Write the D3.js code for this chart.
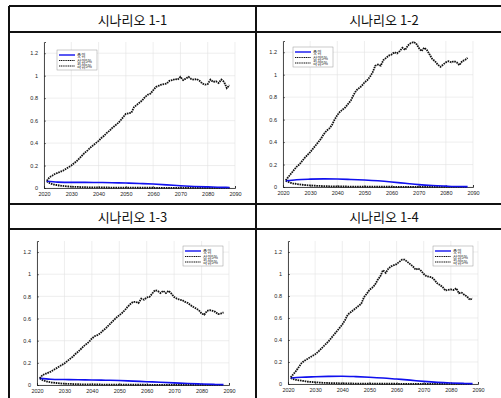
<!DOCTYPE html>
<html>
<head>
<meta charset="utf-8">
<script src="https://cdn.jsdelivr.net/npm/d3@7"></script>
<style>
  body { margin: 0; background: #fff; }
  svg { display: block; }
  .hdr { font-family: "Noto Sans CJK KR", "Noto Sans", sans-serif; font-size: 13px; fill: #111; }
  .tick text { font-family: "Liberation Sans", Arial, sans-serif; font-size: 5.5px; }
  .leg { font-family: "Noto Sans CJK KR", sans-serif; font-size: 4.5px; }
</style>
</head>
<body>
<div id="chart"></div>
<script>
// --- data ---
const titles = ["시나리오 1-1", "시나리오 1-2", "시나리오 1-3", "시나리오 1-4"];
const seriesNames = ["중위", "상위5%", "하위5%"];
const xTicks = [2020, 2030, 2040, 2050, 2060, 2070, 2080, 2090];
const yTicks = [0, 0.2, 0.4, 0.6, 0.8, 1, 1.2];

// upper 5% : yearly 2021..2088
const upperYears = d3.range(2021, 2089);
const upper11 = [0.065,0.095,0.11,0.125,0.135,0.145,0.155,0.17,0.185,0.2,
  0.22,0.24,0.265,0.29,0.315,0.335,0.36,0.38,0.4,0.42,
  0.445,0.465,0.49,0.51,0.535,0.555,0.575,0.6,0.63,0.66,
  0.665,0.67,0.72,0.74,0.76,0.78,0.81,0.83,0.84,0.87,
  0.9,0.91,0.92,0.925,0.93,0.955,0.96,0.97,0.965,0.99,
  0.96,0.975,0.99,0.97,0.965,0.97,0.955,0.93,0.92,0.925,
  0.965,0.945,0.95,0.935,0.965,0.945,0.89,0.915];
const upper12 = [0.06,0.09,0.12,0.15,0.18,0.2,0.23,0.26,0.285,0.31,
  0.34,0.37,0.4,0.43,0.47,0.5,0.52,0.55,0.6,0.64,
  0.67,0.69,0.71,0.74,0.77,0.82,0.86,0.88,0.9,0.93,
  0.95,0.98,1.02,1.08,1.09,1.08,1.13,1.15,1.17,1.18,
  1.2,1.19,1.21,1.24,1.22,1.26,1.28,1.29,1.28,1.24,
  1.21,1.24,1.22,1.18,1.14,1.12,1.09,1.07,1.09,1.11,
  1.12,1.11,1.12,1.11,1.085,1.12,1.13,1.15];
const upper13 = [0.06,0.09,0.1,0.11,0.12,0.135,0.15,0.165,0.18,0.195,
  0.215,0.235,0.255,0.28,0.3,0.325,0.35,0.37,0.39,0.42,
  0.44,0.45,0.465,0.49,0.51,0.535,0.56,0.585,0.61,0.63,
  0.65,0.675,0.705,0.73,0.75,0.75,0.74,0.78,0.77,0.79,
  0.795,0.825,0.855,0.85,0.83,0.85,0.83,0.85,0.825,0.795,
  0.78,0.77,0.765,0.75,0.74,0.72,0.705,0.69,0.675,0.645,
  0.635,0.67,0.675,0.67,0.66,0.64,0.645,0.655];
const upper14 = [0.06,0.09,0.12,0.155,0.19,0.21,0.225,0.24,0.255,0.27,
  0.29,0.315,0.34,0.365,0.39,0.42,0.45,0.48,0.51,0.54,
  0.58,0.63,0.65,0.67,0.69,0.71,0.73,0.79,0.82,0.855,
  0.875,0.9,0.945,0.98,1.035,1.01,1.05,1.07,1.08,1.09,
  1.11,1.13,1.13,1.11,1.09,1.07,1.04,1.05,1.03,1.0,
  0.98,0.975,0.97,0.945,0.915,0.9,0.88,0.85,0.855,0.86,
  0.855,0.87,0.825,0.83,0.81,0.795,0.765,0.78];

// median : read every 5 years
const medYears = [2021, 2025, 2030, 2035, 2040, 2045, 2050, 2055, 2060, 2065, 2070, 2075, 2080, 2085, 2088];
const med11 = [0.06, 0.052, 0.05, 0.05, 0.049, 0.047, 0.044, 0.04, 0.035, 0.028, 0.02, 0.014, 0.01, 0.006, 0.005];
const med12 = [0.055, 0.065, 0.07, 0.072, 0.071, 0.067, 0.062, 0.055, 0.045, 0.033, 0.021, 0.013, 0.008, 0.004, 0.003];
const med13 = [0.06, 0.052, 0.049, 0.047, 0.045, 0.043, 0.04, 0.035, 0.03, 0.025, 0.019, 0.013, 0.009, 0.005, 0.003];
const med14 = [0.055, 0.062, 0.066, 0.069, 0.07, 0.067, 0.062, 0.055, 0.045, 0.035, 0.024, 0.015, 0.009, 0.005, 0.003];

// lower 5%
const lowYears = [2021, 2022, 2023, 2025, 2027, 2030, 2033, 2035, 2040, 2045, 2050, 2060, 2070, 2080, 2088];
const low11 = [0.06, 0.045, 0.035, 0.025, 0.018, 0.012, 0.009, 0.007, 0.005, 0.004, 0.003, 0.002, 0.001, 0.001, 0.001];
const low12 = [0.055, 0.045, 0.036, 0.027, 0.02, 0.014, 0.01, 0.008, 0.005, 0.004, 0.003, 0.002, 0.001, 0.001, 0.001];
const low13 = [0.06, 0.045, 0.036, 0.025, 0.018, 0.012, 0.009, 0.007, 0.005, 0.004, 0.003, 0.002, 0.001, 0.001, 0.001];
const low14 = [0.055, 0.045, 0.038, 0.03, 0.022, 0.016, 0.011, 0.009, 0.006, 0.004, 0.003, 0.002, 0.001, 0.001, 0.001];

const upperAll = [upper11, upper12, upper13, upper14];
const medAll = [med11, med12, med13, med14];
const lowAll = [low11, low12, low13, low14];

// --- layout ---
const W = 501, H = 398;
const table = { left: 9, mid: 256, right: 512, top: 6, hdr1: 32, row2: 204, hdr2: 229, bottom: 420 };
// plot boxes: x of 2020, x of 2090, y of 0, y of 1.3 ; legend position
const panels = [
  { x0: 44,  x1: 235, y0: 188, y1: 42,  leg: [57, 50] },
  { x0: 283, x1: 473, y0: 187, y1: 41,  leg: [293, 47] },
  { x0: 37,  x1: 229, y0: 385, y1: 241, leg: [183, 246] },
  { x0: 288, x1: 478, y0: 384, y1: 241, leg: [433, 246] }
];

const svg = d3.select("#chart").append("svg")
  .attr("width", W).attr("height", H);

// table lines
const tl = svg.append("g").attr("stroke", "#111").attr("stroke-width", 2);
[table.top, table.hdr1, table.row2, table.hdr2].forEach(y => {
  tl.append("line").attr("x1", table.left).attr("x2", table.right).attr("y1", y).attr("y2", y);
});
[table.left, table.mid].forEach(x => {
  tl.append("line").attr("x1", x).attr("x2", x).attr("y1", table.top).attr("y2", table.bottom);
});

// headers
const hdrPos = [
  [(table.left + table.mid) / 2, (table.top + table.hdr1) / 2],
  [(table.mid + table.right) / 2, (table.top + table.hdr1) / 2],
  [(table.left + table.mid) / 2, (table.row2 + table.hdr2) / 2],
  [(table.mid + table.right) / 2, (table.row2 + table.hdr2) / 2]
];
titles.forEach((t, i) => {
  svg.append("text").attr("class", "hdr")
    .attr("x", hdrPos[i][0]).attr("y", hdrPos[i][1])
    .attr("text-anchor", "middle").attr("dominant-baseline", "central")
    .text(t);
});

panels.forEach((p, i) => {
  const x = d3.scaleLinear().domain([2020, 2090]).range([p.x0, p.x1]);
  const y = d3.scaleLinear().domain([0, 1.3]).range([p.y0, p.y1]);
  const g = svg.append("g");

  // grid
  g.append("g").selectAll("line").data(xTicks).join("line")
    .attr("x1", d => x(d)).attr("x2", d => x(d))
    .attr("y1", y(0)).attr("y2", y(1.3))
    .attr("stroke", "#e3e3e3").attr("stroke-width", 0.6);
  g.append("g").selectAll("line").data(yTicks).join("line")
    .attr("x1", x(2020)).attr("x2", x(2090))
    .attr("y1", d => y(d)).attr("y2", d => y(d))
    .attr("stroke", "#e3e3e3").attr("stroke-width", 0.6);

  // axes
  const xa = g.append("g").attr("transform", `translate(0,${y(0)})`)
    .call(d3.axisBottom(x).tickValues(xTicks).tickFormat(d3.format("d")).tickSize(-2).tickPadding(4));
  const ya = g.append("g").attr("transform", `translate(${x(2020)},0)`)
    .call(d3.axisLeft(y).tickValues(yTicks).tickFormat(d => d3.format("~g")(d)).tickSize(-2).tickPadding(6));
  [xa, ya].forEach(a => {
    a.select(".domain").attr("stroke", "#222").attr("stroke-width", 0.8);
    a.selectAll(".tick line").attr("stroke", "#222").attr("stroke-width", 0.6);
    a.selectAll(".tick text").attr("fill", "#222");
  });

  // lines
  const line = d3.line().x(d => x(d[0])).y(d => y(d[1]));
  g.append("path")
    .datum(lowYears.map((yr, k) => [yr, lowAll[i][k]]))
    .attr("d", line.curve(d3.curveMonotoneX))
    .attr("fill", "none").attr("stroke", "#111").attr("stroke-width", 1.8)
    .attr("stroke-dasharray", "1.6,0.8");
  g.append("path")
    .datum(medYears.map((yr, k) => [yr, medAll[i][k]]))
    .attr("d", line.curve(d3.curveMonotoneX))
    .attr("fill", "none").attr("stroke", "#1010ee").attr("stroke-width", 1.6);
  g.append("path")
    .datum(upperYears.map((yr, k) => [yr, upperAll[i][k]]))
    .attr("d", line.curve(d3.curveLinear))
    .attr("fill", "none").attr("stroke", "#111").attr("stroke-width", 1.8)
    .attr("stroke-dasharray", "1.6,0.8");

  // legend
  const lg = g.append("g").attr("transform", `translate(${p.leg[0]},${p.leg[1]})`);
  lg.append("rect").attr("width", 40).attr("height", 20)
    .attr("fill", "#fff").attr("stroke", "#999").attr("stroke-width", 0.5);
  seriesNames.forEach((n, k) => {
    const yy = 5 + k * 5.5;
    lg.append("line").attr("x1", 2).attr("x2", 18).attr("y1", yy).attr("y2", yy)
      .attr("stroke", k === 0 ? "#1010ee" : "#111")
      .attr("stroke-width", k === 0 ? 1.4 : 1.2)
      .attr("stroke-dasharray", k === 0 ? null : "1.2,0.6");
    lg.append("text").attr("class", "leg").attr("x", 20).attr("y", yy)
      .attr("fill", "#111").attr("dominant-baseline", "central").text(n);
  });
});
</script>
</body>
</html>
